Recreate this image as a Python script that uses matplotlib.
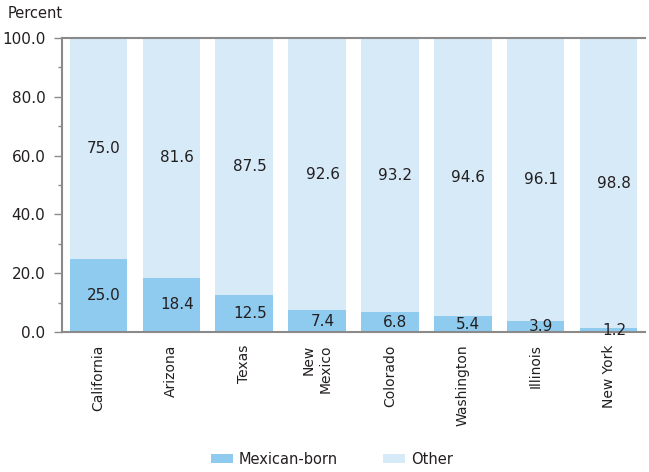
import numpy as np
import matplotlib.pyplot as plt
from matplotlib.ticker import MultipleLocator, FormatStrFormatter

states = ['California', 'Arizona', 'Texas', 'New\nMexico', 'Colorado',
          'Washington', 'Illinois', 'New York']
mexican_born = [25.0, 18.4, 12.5, 7.4, 6.8, 5.4, 3.9, 1.2]
other = [75.0, 81.6, 87.5, 92.6, 93.2, 94.6, 96.1, 98.8]

c_mex = '#8ecbef'
c_other = '#d7eaf8'
c_text = '#231f20'
c_axis = '#8a8a8a'


def main():
    fig = plt.figure(figsize=(6.49, 4.72), dpi=100)
    ax = fig.add_axes([62 / 649, 1 - 332 / 472, 583 / 649, 294 / 472])

    x = np.arange(len(states))
    mex = np.array(mexican_born)
    oth = np.array(other)
    ax.bar(x, mex, width=0.79, color=c_mex, label='Mexican-born')
    ax.bar(x, oth, width=0.79, bottom=mex, color=c_other, label='Other')

    # value labels, centred in each segment, nudged a little right
    for xi, m, o in zip(x, mex, oth):
        ax.annotate(f'{m:.1f}', (xi, m / 2), xytext=(4, 0), textcoords='offset points',
                    ha='center', va='center', fontsize=11, color=c_text)
        ax.annotate(f'{o:.1f}', (xi, m + o / 2), xytext=(4, 0), textcoords='offset points',
                    ha='center', va='center', fontsize=11, color=c_text)

    ax.set_xlim(-0.5, len(states) - 0.5)
    ax.set_ylim(0, 100)
    ax.yaxis.set_major_locator(MultipleLocator(20))
    ax.yaxis.set_minor_locator(MultipleLocator(10))
    ax.yaxis.set_major_formatter(FormatStrFormatter('%.1f'))
    ax.tick_params(axis='y', which='major', length=6, width=1, color=c_axis,
                   labelsize=11, labelcolor=c_text, pad=6)
    ax.tick_params(axis='y', which='minor', length=3, width=1, color=c_axis)

    ax.set_xticks(x)
    ax.set_xticklabels(states, rotation=90, fontsize=10, color=c_text,
                       va='top', ha='center', multialignment='right')
    ax.tick_params(axis='x', length=0, pad=9)

    for s in ['left', 'bottom', 'top']:
        ax.spines[s].set_color(c_axis)
        ax.spines[s].set_linewidth(1.5)
    ax.spines['right'].set_visible(False)

    fig.text(8 / 649, 1 - 14 / 472, 'Percent', fontsize=10.5, color=c_text,
             ha='left', va='center')

    fig.legend(loc='center', bbox_to_anchor=(332 / 649, 1 - 459 / 472), ncol=2,
               frameon=False, fontsize=10.5, handlelength=1.5, handleheight=0.6,
               handletextpad=0.4, columnspacing=3.1, labelcolor=c_text)

    fig.savefig('out.png', dpi=100)


if __name__ == '__main__':
    main()
